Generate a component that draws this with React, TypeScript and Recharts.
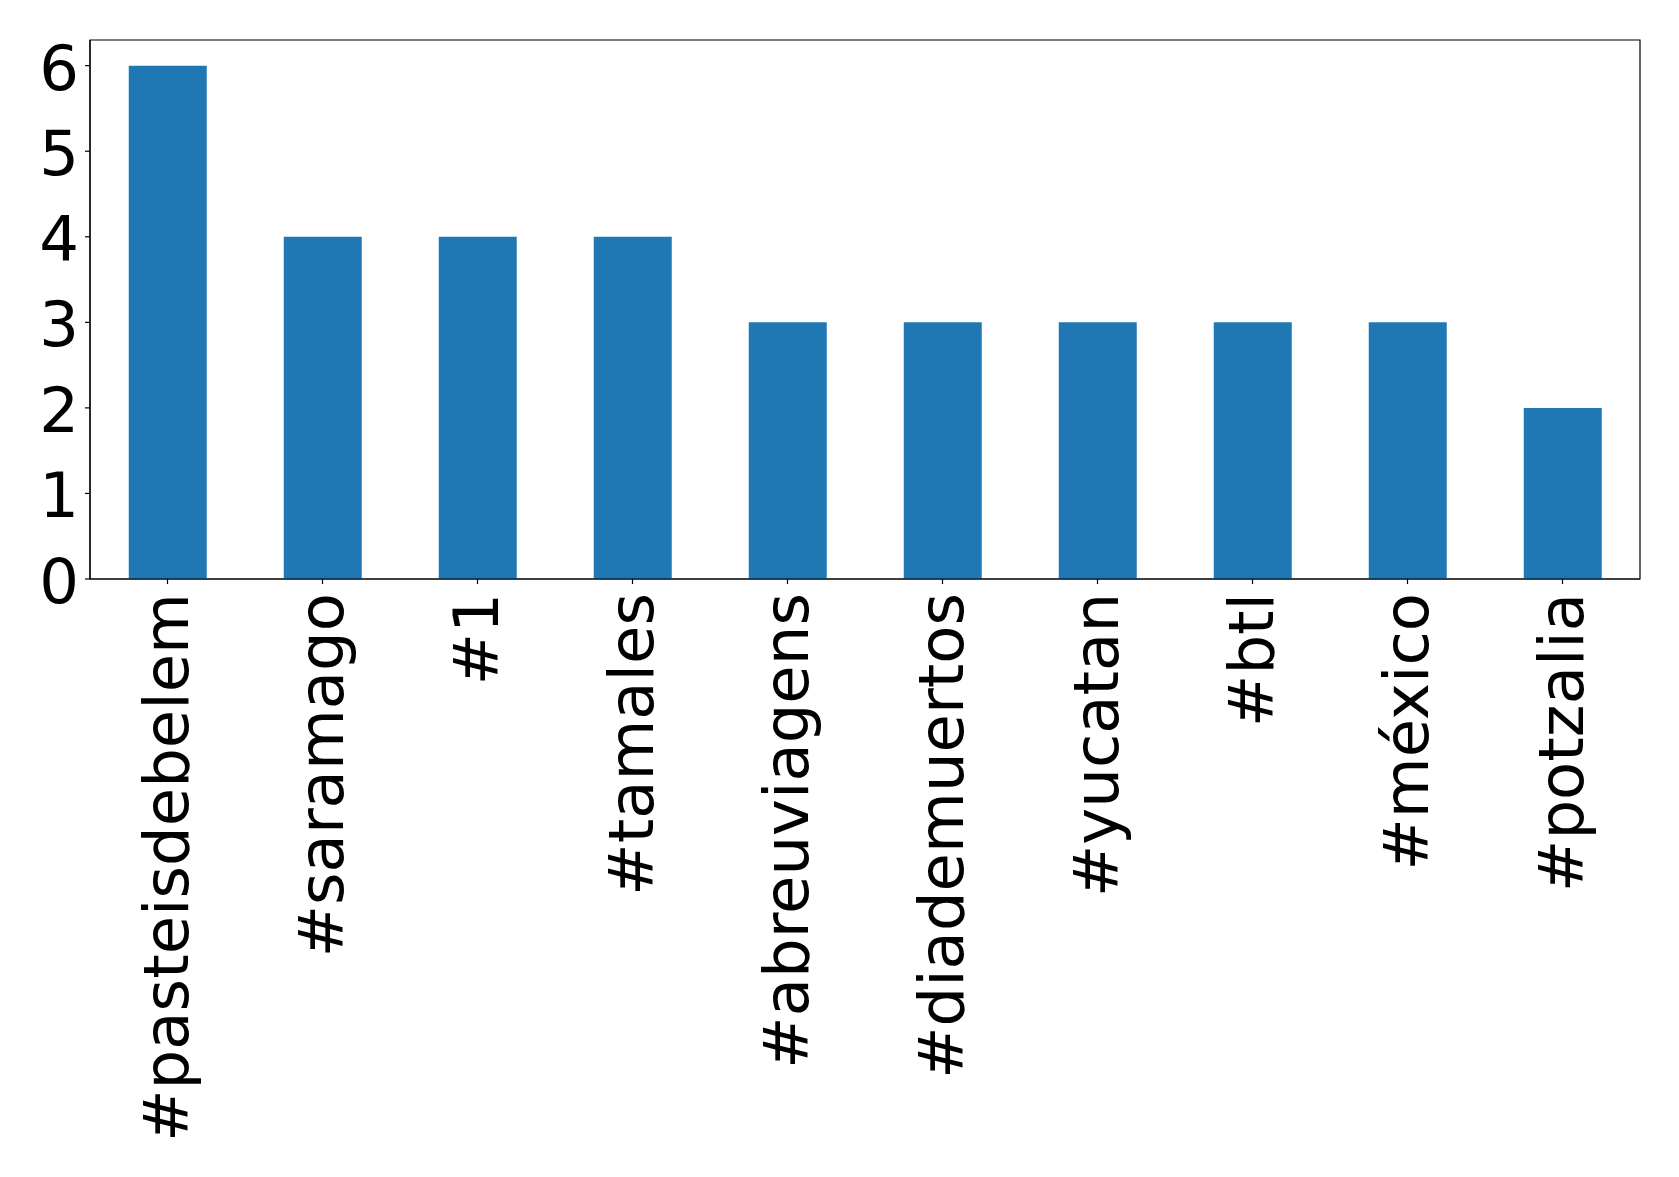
import { BarChart, Bar, XAxis, YAxis, ReferenceArea } from "recharts";

// ---------------------------------------------------
// DATA
// ---------------------------------------------------
const hashtags = [
  "#pasteisdebelem",
  "#saramago",
  "#1",
  "#tamales",
  "#abreuviagens",
  "#diademuertos",
  "#yucatan",
  "#btl",
  "#méxico",
  "#potzalia",
];
const counts = [6, 4, 4, 4, 3, 3, 3, 3, 3, 2];
const yTicks = [0, 1, 2, 3, 4, 5, 6];
const yMax = 6.3;

const data = hashtags.map((tag, i) => ({ tag, count: counts[i] }));

const FONT = "'DejaVu Sans', sans-serif";
const FS = 62.5;

// rotated hashtag labels, reading bottom-to-top
function XTick({ x, y, payload }: any) {
  return (
    <text
      x={0}
      y={0}
      dy={20}
      transform={`translate(${x},${y}) rotate(-90)`}
      textAnchor="end"
      fontFamily={FONT}
      fontSize={FS}
      fill="#000"
    >
      {payload.value}
    </text>
  );
}

function YTick({ x, y, payload }: any) {
  return (
    <text
      x={x}
      y={y}
      dy={24}
      textAnchor="end"
      fontFamily={FONT}
      fontSize={FS}
      fill="#000"
    >
      {payload.value}
    </text>
  );
}

export default function App() {
  return (
    <div style={{ position: "absolute", left: 0, top: 0, background: "#fff" }}>
      <BarChart
        width={1679}
        height={1177}
        data={data}
        margin={{ top: 40, right: 39, left: 0, bottom: 0 }}
        barCategoryGap="25%"
      >
        <XAxis
          dataKey="tag"
          interval={0}
          height={598}
          tick={<XTick />}
          tickSize={5}
          tickMargin={9}
          stroke="#000"
          strokeWidth={1.2}
          tickLine={{ stroke: "#000", strokeWidth: 1.2 }}
        />
        <YAxis
          width={90}
          domain={[0, yMax]}
          ticks={yTicks}
          tick={<YTick />}
          tickSize={5}
          tickMargin={6}
          stroke="#000"
          strokeWidth={1.2}
          tickLine={{ stroke: "#000", strokeWidth: 1.2 }}
        />
        <Bar dataKey="count" fill="#1f77b4" isAnimationActive={false} />
        {/* frame round the plot */}
        <ReferenceArea
          y1={0}
          y2={yMax}
          fill="none"
          stroke="#000"
          strokeWidth={1.2}
          ifOverflow="visible"
        />
      </BarChart>
    </div>
  );
}
